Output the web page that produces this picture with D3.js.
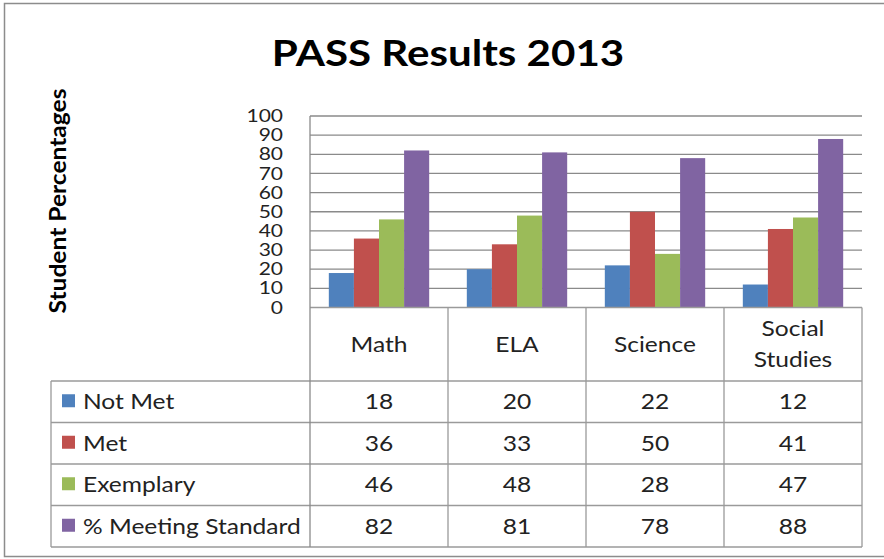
<!DOCTYPE html>
<html>
<head>
<meta charset="utf-8">
<script src="https://cdn.jsdelivr.net/npm/d3@7"></script>
<style>
  body { margin: 0; background: #fff; }
  text { font-family: Lato, "Open Sans", sans-serif; }
</style>
</head>
<body>
<script>
// chart values
const categories = ["Math", "ELA", "Science", "Social Studies"];
const seriesNames = ["Not Met", "Met", "Exemplary", "% Meeting Standard"];
const notMet = [18, 20, 22, 12];
const met = [36, 33, 50, 41];
const exemplary = [46, 48, 28, 47];
const meetingStd = [82, 81, 78, 88];
const yTicks = [0, 10, 20, 30, 40, 50, 60, 70, 80, 90, 100];
const colors = ["#4F81BD", "#C0504D", "#9BBB59", "#8064A2"];

const seriesValues = [notMet, met, exemplary, meetingStd];

const width = 884, height = 559;
const stretch = 1.17; // text in the original is a bit wider than Lato
const svg = d3.select("body").append("svg")
  .attr("width", width).attr("height", height);

// text helper, stretched horizontally
function label(x, yy, txt, size, anchor, weight) {
  return svg.append("text")
    .attr("transform", "translate(" + x + "," + yy + ") scale(" + stretch + ",1)")
    .attr("text-anchor", anchor || "start")
    .attr("font-size", size)
    .attr("font-weight", weight || "normal")
    .attr("fill", "#222")
    .text(txt);
}

// outer frame
svg.append("rect")
  .attr("x", 4.5).attr("y", 3.5).attr("width", 884).attr("height", 553)
  .attr("fill", "#fff").attr("stroke", "#8c8c8c").attr("stroke-width", 1.5);

const plotL = 310, plotR = 862, plotT = 116, plotB = 307.5;

const x0 = d3.scaleBand().domain(categories).range([plotL, plotR]).padding(0);
const x1 = d3.scaleBand().domain(seriesNames).range([0, x0.bandwidth()])
  .paddingInner(0).paddingOuter(0.75);
const y = d3.scaleLinear().domain([0, 100]).range([plotB, plotT]);

// title
label(448, 66, "PASS Results 2013", 36, "middle", "bold").attr("fill", "#000");

// y axis title
svg.append("text")
  .attr("transform", "translate(66,201) rotate(-90)")
  .attr("text-anchor", "middle")
  .attr("font-size", 22).attr("font-weight", "bold")
  .attr("textLength", 225).attr("lengthAdjust", "spacingAndGlyphs")
  .attr("fill", "#000")
  .text("Student Percentages");

// gridlines
svg.append("g").selectAll("line")
  .data(yTicks.filter(d => d > 0))
  .enter().append("line")
  .attr("x1", plotL).attr("x2", plotR)
  .attr("y1", d => y(d)).attr("y2", d => y(d))
  .attr("stroke", "#8a8a8a").attr("stroke-width", 1.3);

// y axis
const yAxis = svg.append("g")
  .attr("transform", "translate(" + plotL + ",0)")
  .call(d3.axisLeft(y).tickValues(yTicks).tickSize(0).tickPadding(0));
yAxis.select(".domain").remove();
yAxis.selectAll("text")
  .attr("x", -27 / 1.2)
  .attr("transform", "scale(1.2,1)")
  .attr("font-size", 17.5).attr("fill", "#222")
  .attr("font-family", "Lato, sans-serif");

// bars
const groups = svg.append("g").selectAll("g")
  .data(categories)
  .enter().append("g")
  .attr("transform", d => "translate(" + x0(d) + ",0)");

groups.selectAll("rect")
  .data((d, i) => seriesNames.map((s, j) => ({ s: s, v: seriesValues[j][i], j: j })))
  .enter().append("rect")
  .attr("x", d => x1(d.s))
  .attr("width", x1.bandwidth())
  .attr("y", d => y(d.v))
  .attr("height", d => y(0) - y(d.v))
  .attr("fill", d => colors[d.j]);

// data table
const tableL = 51, headerB = 381, rowH = 41.5;
const rowYs = d3.range(seriesNames.length + 1).map(i => headerB + i * rowH);
const tableB = rowYs[rowYs.length - 1];
const tbl = svg.append("g").attr("stroke", "#9a9a9a").attr("stroke-width", 1.3);

tbl.append("line").attr("x1", plotL).attr("x2", plotR).attr("y1", plotB).attr("y2", plotB);
rowYs.forEach(ry => {
  tbl.append("line").attr("x1", tableL).attr("x2", plotR).attr("y1", ry).attr("y2", ry);
});
tbl.append("line").attr("x1", tableL).attr("x2", tableL).attr("y1", headerB).attr("y2", tableB);
// category column borders; first one is also the value axis line
d3.range(categories.length + 1).forEach(i => {
  const vx = plotL + i * x0.bandwidth();
  tbl.append("line").attr("x1", vx).attr("x2", vx)
    .attr("y1", i === 0 ? plotT : plotB).attr("y2", tableB)
    .attr("stroke", i === 0 ? "#8a8a8a" : "#9a9a9a");
});

// header text
categories.forEach(c => {
  const cx = x0(c) + x0.bandwidth() / 2;
  const words = c.split(" ");
  if (words.length === 1) {
    label(cx, 352, c, 21, "middle");
  } else {
    words.forEach((w, k) => label(cx, 336 + k * 31, w, 21, "middle"));
  }
});

// rows
seriesNames.forEach((s, j) => {
  const cy = rowYs[j] + rowH / 2 + 7.5;
  svg.append("rect")
    .attr("x", 62).attr("y", cy - 15).attr("width", 13).attr("height", 13)
    .attr("fill", colors[j]);
  label(83, cy, s, 21);
  categories.forEach((c, i) => {
    label(x0(c) + x0.bandwidth() / 2, cy, seriesValues[j][i], 21, "middle");
  });
});
</script>
</body>
</html>
